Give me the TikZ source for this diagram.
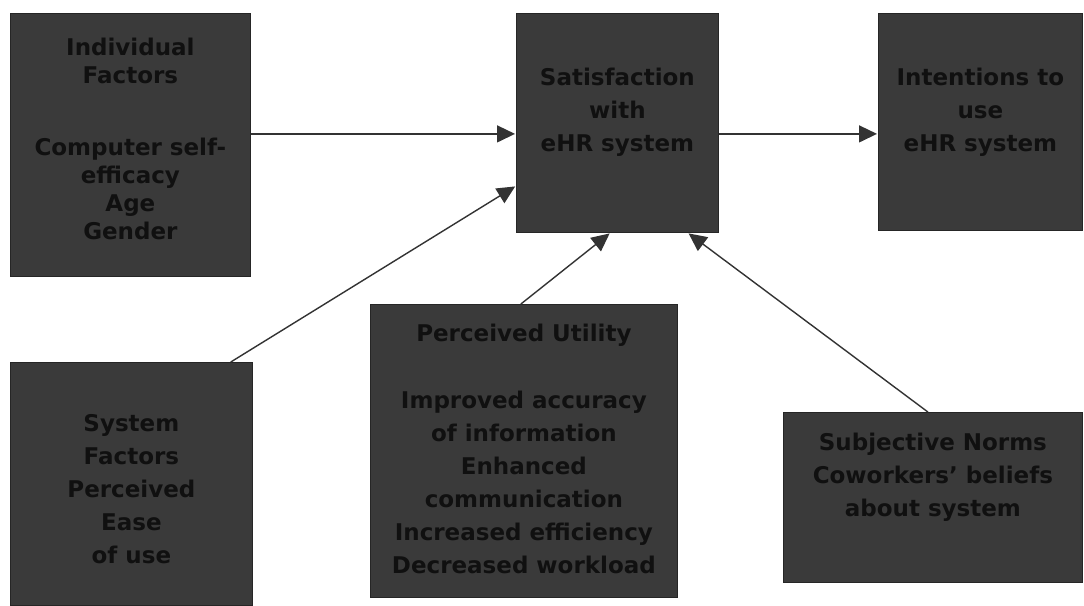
\documentclass[tikz,border=0pt]{standalone}
\usepackage{fontspec}
\setmainfont{DejaVu Sans}
\usepackage{tikz}
\usetikzlibrary{arrows.meta,positioning}
\definecolor{boxgray}{RGB}{58,58,58}
\definecolor{txtgray}{RGB}{16,16,16}
\tikzset{
  box/.style={draw=black!85, line width=0.8pt, fill=boxgray, anchor=north west, inner sep=0pt},
  lbl/.style={align=center, text=txtgray, inner sep=0pt, font=\fontsize{23}{33}\selectfont\bfseries},
  arr/.style={draw=black!80, line width=1.4pt, -{Triangle[length=18pt,width=17pt]}, shorten >=1pt}
}
\begin{document}
\begin{tikzpicture}[x=1pt,y=-1pt]%model of eHR satisfaction
\useasboundingbox[fill=white] (0,0) rectangle (1084,605);
%the six boxes
\node[box, minimum width=240, minimum height=263] (ind) at (10,13) {};
\node[box, minimum width=202, minimum height=219] (sat) at (516,13) {};
\node[box, minimum width=204, minimum height=217] (int) at (878,13) {};
\node[box, minimum width=242, minimum height=243] (sys) at (10,362) {};
\node[box, minimum width=307, minimum height=293] (util) at (370,304) {};
\node[box, minimum width=299, minimum height=170] (sub) at (783,412) {};
%texts in the boxes
\node[lbl, font=\fontsize{23}{28}\selectfont\bfseries, below=25pt of ind.north] (indtxt) {Individual\\Factors\\[44pt]Computer self-\\efficacy\\Age\\Gender};
\node[lbl, below=55pt of sat.north] (sattxt) {Satisfaction\\with\\eHR system};
\node[lbl, below=55pt of int.north] (inttxt) {Intentions to\\use\\eHR system};
\node[lbl, below=52pt of sys.north] (systxt) {System\\Factors\\Perceived\\Ease\\of use};
\node[lbl, below=20pt of util.north] (utiltxt) {Perceived Utility\\[34pt]Improved accuracy\\of information\\Enhanced\\communication\\Increased efficiency\\Decreased workload};
\node[lbl, below=21pt of sub.north] (subtxt) {Subjective Norms\\Coworkers' beliefs\\about system};
%arrows into and out of satisfaction
\coordinate (a1) at ([yshift=11pt]ind.east);
\draw[arr] (a1) -- (a1 -| sat.west);
\coordinate (a2) at ([yshift=-11pt]sat.east);
\draw[arr] (a2) -- (a2 -| int.west);
\draw[arr] ([xshift=-22pt]sys.north east) -- ([yshift=-63pt]sat.west);
\draw[arr] ([xshift=-3pt]util.north) -- ([xshift=-7pt]sat.south);
\draw[arr] ([xshift=-5pt]sub.north) -- ([xshift=-31pt]sat.south east);
\end{tikzpicture}
\end{document}
